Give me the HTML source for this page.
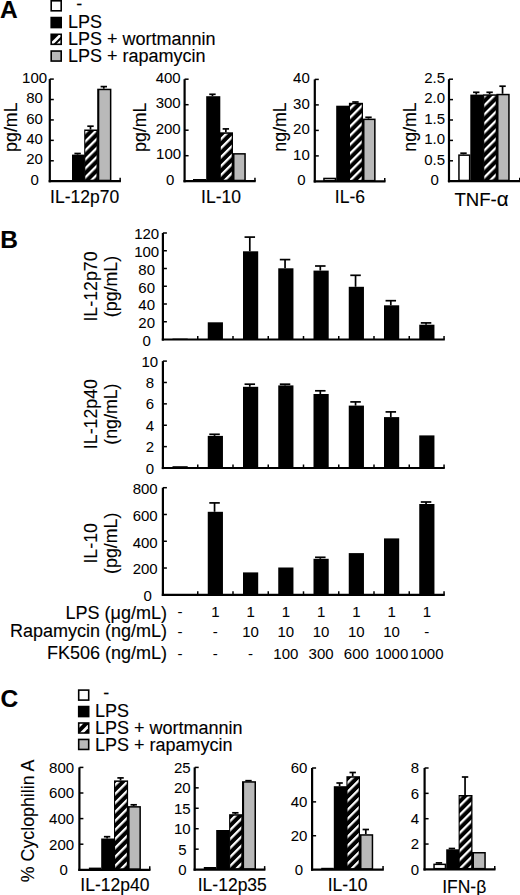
<!DOCTYPE html><html><head><meta charset="utf-8"><style>html,body{margin:0;padding:0;background:#fff;}svg{display:block;}text{font-family:"Liberation Sans",sans-serif;fill:#000;stroke:#000;stroke-width:0.12px;}text.t{stroke-width:0.05px;}</style></head><body>
<svg width="520" height="895" viewBox="0 0 520 895">
<rect width="520" height="895" fill="#fff"/>
<text x="0" y="18.2" font-size="24.5" text-anchor="start" font-weight="bold" >A</text>
<rect x="50.4" y="0.0" width="11.6" height="11.6" fill="#000"/>
<rect x="52.0" y="1.6" width="8.4" height="8.4" fill="#fff"/>
<text x="76.2" y="9.9" font-size="18.0" text-anchor="start" font-weight="normal" >-</text>
<rect x="50.4" y="16.75" width="11.6" height="11.6" fill="#000"/>
<text x="68.0" y="27.7" font-size="18.0" text-anchor="start" font-weight="normal" >LPS</text>
<rect x="50.4" y="33.5" width="11.6" height="11.6" fill="#000"/>
<clipPath id="lc0"><rect x="52.0" y="35.1" width="8.4" height="8.4"/></clipPath>
<g clip-path="url(#lc0)">
<line x1="65.5" y1="30.1" x2="47.0" y2="48.6" stroke="#fff" stroke-width="2.8"/>
<line x1="72.3" y1="30.1" x2="47.0" y2="55.4" stroke="#fff" stroke-width="2.8"/>
</g>
<text x="68.0" y="44.9" font-size="18.0" text-anchor="start" font-weight="normal" >LPS + wortmannin</text>
<rect x="50.4" y="50.25" width="11.6" height="11.6" fill="#000"/>
<rect x="52.0" y="51.85" width="8.4" height="8.4" fill="#b9b9b9"/>
<text x="68.0" y="61.9" font-size="18.0" text-anchor="start" font-weight="normal" >LPS + rapamycin</text>
<line x1="49.8" y1="79.1" x2="49.8" y2="182.3" stroke="#000" stroke-width="2.2"/>
<line x1="49.8" y1="79.1" x2="53.8" y2="79.1" stroke="#000" stroke-width="1.5"/>
<line x1="49.8" y1="99.52" x2="53.8" y2="99.52" stroke="#000" stroke-width="1.5"/>
<line x1="49.8" y1="119.94" x2="53.8" y2="119.94" stroke="#000" stroke-width="1.5"/>
<line x1="49.8" y1="140.36" x2="53.8" y2="140.36" stroke="#000" stroke-width="1.5"/>
<line x1="49.8" y1="160.78" x2="53.8" y2="160.78" stroke="#000" stroke-width="1.5"/>
<line x1="48.7" y1="181.2" x2="120.9" y2="181.2" stroke="#000" stroke-width="2.2"/>
<line x1="120.15" y1="181.2" x2="120.15" y2="177.7" stroke="#000" stroke-width="1.5"/>
<text x="34.6" y="82.8" font-size="15" text-anchor="middle" font-weight="normal" class="t">100</text>
<text x="34.6" y="103.22" font-size="15" text-anchor="middle" font-weight="normal" class="t">80</text>
<text x="34.6" y="123.64" font-size="15" text-anchor="middle" font-weight="normal" class="t">60</text>
<text x="34.6" y="144.06" font-size="15" text-anchor="middle" font-weight="normal" class="t">40</text>
<text x="34.6" y="164.48" font-size="15" text-anchor="middle" font-weight="normal" class="t">20</text>
<text x="34.6" y="184.9" font-size="15" text-anchor="middle" font-weight="normal" class="t">0</text>
<text transform="translate(16.8,127.2) rotate(-90)" font-size="17.8" text-anchor="middle">pg/mL</text>
<line x1="77.6" y1="154.6" x2="77.6" y2="153.5" stroke="#000" stroke-width="1.7"/>
<line x1="74.4" y1="153.5" x2="80.8" y2="153.5" stroke="#000" stroke-width="1.7"/>
<rect x="72.0" y="154.6" width="12.8" height="26.6" fill="#000"/>
<line x1="90.5" y1="129.5" x2="90.5" y2="126.2" stroke="#000" stroke-width="1.7"/>
<line x1="87.3" y1="126.2" x2="93.7" y2="126.2" stroke="#000" stroke-width="1.7"/>
<rect x="84.2" y="129.5" width="13.6" height="51.7" fill="#000"/>
<pattern id="h1" patternUnits="userSpaceOnUse" width="6.36" height="6.36" patternTransform="rotate(45) translate(0.16 0)"><rect x="0" y="0" width="2.3" height="6.36" fill="#fff"/></pattern>
<rect x="85.3" y="131.0" width="11.2" height="48.7" fill="url(#h1)"/>
<line x1="103.8" y1="88.7" x2="103.8" y2="86.6" stroke="#000" stroke-width="1.7"/>
<line x1="100.6" y1="86.6" x2="107.0" y2="86.6" stroke="#000" stroke-width="1.7"/>
<rect x="97.2" y="88.7" width="14.2" height="92.5" fill="#000"/>
<rect x="99.3" y="90.2" width="10.6" height="89.5" fill="#b9b9b9"/>
<text x="84.6" y="203.2" font-size="17.5" text-anchor="middle" font-weight="normal" >IL-12p70</text>
<line x1="184.6" y1="79.2" x2="184.6" y2="182.3" stroke="#000" stroke-width="2.2"/>
<line x1="184.6" y1="79.2" x2="188.6" y2="79.2" stroke="#000" stroke-width="1.5"/>
<line x1="184.6" y1="104.7" x2="188.6" y2="104.7" stroke="#000" stroke-width="1.5"/>
<line x1="184.6" y1="130.2" x2="188.6" y2="130.2" stroke="#000" stroke-width="1.5"/>
<line x1="184.6" y1="155.7" x2="188.6" y2="155.7" stroke="#000" stroke-width="1.5"/>
<line x1="183.5" y1="181.2" x2="255.7" y2="181.2" stroke="#000" stroke-width="2.2"/>
<line x1="254.95" y1="181.2" x2="254.95" y2="177.7" stroke="#000" stroke-width="1.5"/>
<text x="168.2" y="82.9" font-size="15" text-anchor="middle" font-weight="normal" class="t">400</text>
<text x="168.2" y="108.4" font-size="15" text-anchor="middle" font-weight="normal" class="t">300</text>
<text x="168.2" y="133.9" font-size="15" text-anchor="middle" font-weight="normal" class="t">200</text>
<text x="168.6" y="159.4" font-size="15" text-anchor="middle" font-weight="normal" class="t">100</text>
<text x="170.2" y="184.9" font-size="15" text-anchor="middle" font-weight="normal" class="t">0</text>
<text transform="translate(145.8,127.3) rotate(-90)" font-size="17.8" text-anchor="middle">pg/mL</text>
<rect x="193.0" y="179.0" width="13.2" height="2.2" fill="#000"/>
<line x1="212.45" y1="96.2" x2="212.45" y2="94.3" stroke="#000" stroke-width="1.7"/>
<line x1="209.25" y1="94.3" x2="215.65" y2="94.3" stroke="#000" stroke-width="1.7"/>
<rect x="206.2" y="96.2" width="14.1" height="85" fill="#000"/>
<line x1="225.85" y1="132.3" x2="225.85" y2="128.9" stroke="#000" stroke-width="1.7"/>
<line x1="222.65" y1="128.9" x2="229.05" y2="128.9" stroke="#000" stroke-width="1.7"/>
<rect x="219.7" y="132.3" width="13.3" height="48.9" fill="#000"/>
<pattern id="h2" patternUnits="userSpaceOnUse" width="6.36" height="6.36" patternTransform="rotate(45) translate(-0.94 0)"><rect x="0" y="0" width="2.3" height="6.36" fill="#fff"/></pattern>
<rect x="220.8" y="133.8" width="10.9" height="45.9" fill="url(#h2)"/>
<rect x="232.4" y="153.1" width="13.4" height="28.1" fill="#000"/>
<rect x="234.5" y="154.6" width="9.8" height="25.1" fill="#b9b9b9"/>
<text x="221.0" y="203.2" font-size="17.5" text-anchor="middle" font-weight="normal" >IL-10</text>
<line x1="314.8" y1="79.4" x2="314.8" y2="182.5" stroke="#000" stroke-width="2.2"/>
<line x1="314.8" y1="79.4" x2="318.8" y2="79.4" stroke="#000" stroke-width="1.5"/>
<line x1="314.8" y1="104.9" x2="318.8" y2="104.9" stroke="#000" stroke-width="1.5"/>
<line x1="314.8" y1="130.4" x2="318.8" y2="130.4" stroke="#000" stroke-width="1.5"/>
<line x1="314.8" y1="155.9" x2="318.8" y2="155.9" stroke="#000" stroke-width="1.5"/>
<line x1="313.7" y1="181.4" x2="385.5" y2="181.4" stroke="#000" stroke-width="2.2"/>
<line x1="384.75" y1="181.4" x2="384.75" y2="177.9" stroke="#000" stroke-width="1.5"/>
<text x="301.4" y="83.1" font-size="15" text-anchor="middle" font-weight="normal" class="t">40</text>
<text x="301.4" y="108.6" font-size="15" text-anchor="middle" font-weight="normal" class="t">30</text>
<text x="301.4" y="134.1" font-size="15" text-anchor="middle" font-weight="normal" class="t">20</text>
<text x="301.4" y="159.6" font-size="15" text-anchor="middle" font-weight="normal" class="t">10</text>
<text x="301.4" y="185.1" font-size="15" text-anchor="middle" font-weight="normal" class="t">0</text>
<text transform="translate(285.8,127.0) rotate(-90)" font-size="17.8" text-anchor="middle">ng/mL</text>
<rect x="323.2" y="177.7" width="13.0" height="3.7" fill="#000"/>
<rect x="324.7" y="179.2" width="10.0" height="0.7" fill="#fff"/>
<rect x="336.2" y="105.7" width="13.3" height="75.7" fill="#000"/>
<line x1="355.45" y1="102.8" x2="355.45" y2="102.0" stroke="#000" stroke-width="1.7"/>
<line x1="352.25" y1="102.0" x2="358.65" y2="102.0" stroke="#000" stroke-width="1.7"/>
<rect x="348.9" y="102.8" width="14.1" height="78.6" fill="#000"/>
<pattern id="h3" patternUnits="userSpaceOnUse" width="6.36" height="6.36" patternTransform="rotate(45) translate(5.16 0)"><rect x="0" y="0" width="2.3" height="6.36" fill="#fff"/></pattern>
<rect x="350.0" y="104.3" width="11.7" height="75.6" fill="url(#h3)"/>
<line x1="368.5" y1="118.6" x2="368.5" y2="117.3" stroke="#000" stroke-width="1.7"/>
<line x1="365.3" y1="117.3" x2="371.7" y2="117.3" stroke="#000" stroke-width="1.7"/>
<rect x="362.4" y="118.6" width="13.2" height="62.8" fill="#000"/>
<rect x="364.5" y="120.1" width="9.6" height="59.8" fill="#b9b9b9"/>
<text x="349.9" y="203.2" font-size="17.5" text-anchor="middle" font-weight="normal" >IL-6</text>
<line x1="449.0" y1="79.2" x2="449.0" y2="182.3" stroke="#000" stroke-width="2.2"/>
<line x1="449.0" y1="79.2" x2="453.0" y2="79.2" stroke="#000" stroke-width="1.5"/>
<line x1="449.0" y1="99.6" x2="453.0" y2="99.6" stroke="#000" stroke-width="1.5"/>
<line x1="449.0" y1="120.0" x2="453.0" y2="120.0" stroke="#000" stroke-width="1.5"/>
<line x1="449.0" y1="140.4" x2="453.0" y2="140.4" stroke="#000" stroke-width="1.5"/>
<line x1="449.0" y1="160.8" x2="453.0" y2="160.8" stroke="#000" stroke-width="1.5"/>
<line x1="447.9" y1="181.2" x2="520.5" y2="181.2" stroke="#000" stroke-width="2.2"/>
<line x1="519.75" y1="181.2" x2="519.75" y2="177.7" stroke="#000" stroke-width="1.5"/>
<text x="434.6" y="82.9" font-size="15" text-anchor="middle" font-weight="normal" class="t">2.5</text>
<text x="434.6" y="103.3" font-size="15" text-anchor="middle" font-weight="normal" class="t">2.0</text>
<text x="434.6" y="123.7" font-size="15" text-anchor="middle" font-weight="normal" class="t">1.5</text>
<text x="434.6" y="144.1" font-size="15" text-anchor="middle" font-weight="normal" class="t">1.0</text>
<text x="434.6" y="164.5" font-size="15" text-anchor="middle" font-weight="normal" class="t">0.5</text>
<text x="434.6" y="184.9" font-size="15" text-anchor="middle" font-weight="normal" class="t">0</text>
<text transform="translate(416.1,127.0) rotate(-90)" font-size="17.8" text-anchor="middle">ng/mL</text>
<line x1="463.5" y1="154.4" x2="463.5" y2="153.2" stroke="#000" stroke-width="1.7"/>
<line x1="460.3" y1="153.2" x2="466.7" y2="153.2" stroke="#000" stroke-width="1.7"/>
<rect x="458.2" y="154.4" width="12.2" height="26.8" fill="#000"/>
<rect x="459.7" y="155.9" width="9.2" height="23.8" fill="#fff"/>
<line x1="476.25" y1="94.6" x2="476.25" y2="92.3" stroke="#000" stroke-width="1.7"/>
<line x1="473.05" y1="92.3" x2="479.45" y2="92.3" stroke="#000" stroke-width="1.7"/>
<rect x="470.3" y="94.6" width="13.5" height="86.6" fill="#000"/>
<line x1="489.6" y1="94.3" x2="489.6" y2="92.3" stroke="#000" stroke-width="1.7"/>
<line x1="486.4" y1="92.3" x2="492.8" y2="92.3" stroke="#000" stroke-width="1.7"/>
<rect x="483.2" y="94.3" width="13.8" height="86.9" fill="#000"/>
<pattern id="h4" patternUnits="userSpaceOnUse" width="6.36" height="6.36" patternTransform="rotate(45) translate(2.46 0)"><rect x="0" y="0" width="2.3" height="6.36" fill="#fff"/></pattern>
<rect x="484.3" y="95.8" width="11.4" height="83.9" fill="url(#h4)"/>
<line x1="502.55" y1="93.8" x2="502.55" y2="86.2" stroke="#000" stroke-width="1.7"/>
<line x1="499.35" y1="86.2" x2="505.75" y2="86.2" stroke="#000" stroke-width="1.7"/>
<rect x="496.4" y="93.8" width="13.3" height="87.4" fill="#000"/>
<rect x="498.5" y="95.3" width="9.7" height="84.4" fill="#b9b9b9"/>
<text x="481.5" y="206.0" font-size="18.6" text-anchor="middle" font-weight="normal" >TNF-<tspan font-size="20.5">α</tspan></text>
<text x="0.3" y="248" font-size="24.5" text-anchor="start" font-weight="bold" >B</text>
<line x1="162.9" y1="233.0" x2="162.9" y2="340.6" stroke="#000" stroke-width="2.2"/>
<line x1="162.9" y1="233.0" x2="166.9" y2="233.0" stroke="#000" stroke-width="1.5"/>
<line x1="162.9" y1="250.75" x2="166.9" y2="250.75" stroke="#000" stroke-width="1.5"/>
<line x1="162.9" y1="268.5" x2="166.9" y2="268.5" stroke="#000" stroke-width="1.5"/>
<line x1="162.9" y1="286.25" x2="166.9" y2="286.25" stroke="#000" stroke-width="1.5"/>
<line x1="162.9" y1="304.0" x2="166.9" y2="304.0" stroke="#000" stroke-width="1.5"/>
<line x1="162.9" y1="321.75" x2="166.9" y2="321.75" stroke="#000" stroke-width="1.5"/>
<line x1="161.8" y1="339.5" x2="444.8" y2="339.5" stroke="#000" stroke-width="2.2"/>
<line x1="197.75" y1="339.5" x2="197.75" y2="336.0" stroke="#000" stroke-width="1.5"/>
<line x1="233.0" y1="339.5" x2="233.0" y2="336.0" stroke="#000" stroke-width="1.5"/>
<line x1="268.25" y1="339.5" x2="268.25" y2="336.0" stroke="#000" stroke-width="1.5"/>
<line x1="303.5" y1="339.5" x2="303.5" y2="336.0" stroke="#000" stroke-width="1.5"/>
<line x1="338.75" y1="339.5" x2="338.75" y2="336.0" stroke="#000" stroke-width="1.5"/>
<line x1="374.0" y1="339.5" x2="374.0" y2="336.0" stroke="#000" stroke-width="1.5"/>
<line x1="409.25" y1="339.5" x2="409.25" y2="336.0" stroke="#000" stroke-width="1.5"/>
<line x1="444.05" y1="339.5" x2="444.05" y2="336.0" stroke="#000" stroke-width="1.5"/>
<text x="146.7" y="239.3" font-size="15" text-anchor="middle" font-weight="normal" class="t">120</text>
<text x="146.7" y="257.05" font-size="15" text-anchor="middle" font-weight="normal" class="t">100</text>
<text x="146.7" y="274.8" font-size="15" text-anchor="middle" font-weight="normal" class="t">80</text>
<text x="146.7" y="292.55" font-size="15" text-anchor="middle" font-weight="normal" class="t">60</text>
<text x="146.7" y="310.3" font-size="15" text-anchor="middle" font-weight="normal" class="t">40</text>
<text x="146.7" y="328.05" font-size="15" text-anchor="middle" font-weight="normal" class="t">20</text>
<text x="146.7" y="345.8" font-size="15" text-anchor="middle" font-weight="normal" class="t">0</text>
<text transform="translate(96.5,286.5) rotate(-90)" font-size="17.8" text-anchor="middle">IL-12p70</text>
<text transform="translate(116.5,286.5) rotate(-90)" font-size="17.8" text-anchor="middle">(pg/mL)</text>
<rect x="172.5" y="338.6" width="15.2" height="0.9" fill="#000"/>
<rect x="207.75" y="322.3" width="15.2" height="17.2" fill="#000"/>
<line x1="249.8" y1="251.3" x2="249.8" y2="237.1" stroke="#000" stroke-width="1.7"/>
<line x1="244.55" y1="237.1" x2="255.05" y2="237.1" stroke="#000" stroke-width="1.7"/>
<rect x="243.0" y="251.3" width="15.2" height="88.2" fill="#000"/>
<line x1="285.05" y1="268.3" x2="285.05" y2="259.6" stroke="#000" stroke-width="1.7"/>
<line x1="279.8" y1="259.6" x2="290.3" y2="259.6" stroke="#000" stroke-width="1.7"/>
<rect x="278.25" y="268.3" width="15.2" height="71.2" fill="#000"/>
<line x1="320.3" y1="270.6" x2="320.3" y2="266.0" stroke="#000" stroke-width="1.7"/>
<line x1="315.05" y1="266.0" x2="325.55" y2="266.0" stroke="#000" stroke-width="1.7"/>
<rect x="313.5" y="270.6" width="15.2" height="68.9" fill="#000"/>
<line x1="355.55" y1="286.8" x2="355.55" y2="275.3" stroke="#000" stroke-width="1.7"/>
<line x1="350.3" y1="275.3" x2="360.8" y2="275.3" stroke="#000" stroke-width="1.7"/>
<rect x="348.75" y="286.8" width="15.2" height="52.7" fill="#000"/>
<line x1="390.8" y1="305.3" x2="390.8" y2="300.7" stroke="#000" stroke-width="1.7"/>
<line x1="385.55" y1="300.7" x2="396.05" y2="300.7" stroke="#000" stroke-width="1.7"/>
<rect x="384.0" y="305.3" width="15.2" height="34.2" fill="#000"/>
<line x1="426.05" y1="324.7" x2="426.05" y2="322.9" stroke="#000" stroke-width="1.7"/>
<line x1="420.8" y1="322.9" x2="431.3" y2="322.9" stroke="#000" stroke-width="1.7"/>
<rect x="419.25" y="324.7" width="15.2" height="14.8" fill="#000"/>
<line x1="162.9" y1="361.1" x2="162.9" y2="469.1" stroke="#000" stroke-width="2.2"/>
<line x1="162.9" y1="361.1" x2="166.9" y2="361.1" stroke="#000" stroke-width="1.5"/>
<line x1="162.9" y1="382.48" x2="166.9" y2="382.48" stroke="#000" stroke-width="1.5"/>
<line x1="162.9" y1="403.86" x2="166.9" y2="403.86" stroke="#000" stroke-width="1.5"/>
<line x1="162.9" y1="425.24" x2="166.9" y2="425.24" stroke="#000" stroke-width="1.5"/>
<line x1="162.9" y1="446.62" x2="166.9" y2="446.62" stroke="#000" stroke-width="1.5"/>
<line x1="161.8" y1="468.0" x2="444.8" y2="468.0" stroke="#000" stroke-width="2.2"/>
<line x1="197.75" y1="468.0" x2="197.75" y2="464.5" stroke="#000" stroke-width="1.5"/>
<line x1="233.0" y1="468.0" x2="233.0" y2="464.5" stroke="#000" stroke-width="1.5"/>
<line x1="268.25" y1="468.0" x2="268.25" y2="464.5" stroke="#000" stroke-width="1.5"/>
<line x1="303.5" y1="468.0" x2="303.5" y2="464.5" stroke="#000" stroke-width="1.5"/>
<line x1="338.75" y1="468.0" x2="338.75" y2="464.5" stroke="#000" stroke-width="1.5"/>
<line x1="374.0" y1="468.0" x2="374.0" y2="464.5" stroke="#000" stroke-width="1.5"/>
<line x1="409.25" y1="468.0" x2="409.25" y2="464.5" stroke="#000" stroke-width="1.5"/>
<line x1="444.05" y1="468.0" x2="444.05" y2="464.5" stroke="#000" stroke-width="1.5"/>
<text x="149.8" y="366.7" font-size="15" text-anchor="middle" font-weight="normal" class="t">10</text>
<text x="149.8" y="388.08" font-size="15" text-anchor="middle" font-weight="normal" class="t">8</text>
<text x="149.8" y="409.46" font-size="15" text-anchor="middle" font-weight="normal" class="t">6</text>
<text x="149.8" y="430.84" font-size="15" text-anchor="middle" font-weight="normal" class="t">4</text>
<text x="149.8" y="452.22" font-size="15" text-anchor="middle" font-weight="normal" class="t">2</text>
<text x="149.8" y="473.6" font-size="15" text-anchor="middle" font-weight="normal" class="t">0</text>
<text transform="translate(96.5,414.1) rotate(-90)" font-size="17.8" text-anchor="middle">IL-12p40</text>
<text transform="translate(116.5,414.1) rotate(-90)" font-size="17.8" text-anchor="middle">(ng/mL)</text>
<rect x="172.5" y="466.2" width="15.2" height="1.8" fill="#000"/>
<line x1="214.55" y1="435.9" x2="214.55" y2="434.3" stroke="#000" stroke-width="1.7"/>
<line x1="209.3" y1="434.3" x2="219.8" y2="434.3" stroke="#000" stroke-width="1.7"/>
<rect x="207.75" y="435.9" width="15.2" height="32.1" fill="#000"/>
<line x1="249.8" y1="386.8" x2="249.8" y2="384.2" stroke="#000" stroke-width="1.7"/>
<line x1="244.55" y1="384.2" x2="255.05" y2="384.2" stroke="#000" stroke-width="1.7"/>
<rect x="243.0" y="386.8" width="15.2" height="81.2" fill="#000"/>
<line x1="285.05" y1="385.4" x2="285.05" y2="384.2" stroke="#000" stroke-width="1.7"/>
<line x1="279.8" y1="384.2" x2="290.3" y2="384.2" stroke="#000" stroke-width="1.7"/>
<rect x="278.25" y="385.4" width="15.2" height="82.6" fill="#000"/>
<line x1="320.3" y1="394.0" x2="320.3" y2="390.8" stroke="#000" stroke-width="1.7"/>
<line x1="315.05" y1="390.8" x2="325.55" y2="390.8" stroke="#000" stroke-width="1.7"/>
<rect x="313.5" y="394.0" width="15.2" height="74.0" fill="#000"/>
<line x1="355.55" y1="405.6" x2="355.55" y2="401.9" stroke="#000" stroke-width="1.7"/>
<line x1="350.3" y1="401.9" x2="360.8" y2="401.9" stroke="#000" stroke-width="1.7"/>
<rect x="348.75" y="405.6" width="15.2" height="62.4" fill="#000"/>
<line x1="390.8" y1="417.1" x2="390.8" y2="411.9" stroke="#000" stroke-width="1.7"/>
<line x1="385.55" y1="411.9" x2="396.05" y2="411.9" stroke="#000" stroke-width="1.7"/>
<rect x="384.0" y="417.1" width="15.2" height="50.9" fill="#000"/>
<rect x="419.25" y="435.4" width="15.2" height="32.6" fill="#000"/>
<line x1="162.9" y1="487.7" x2="162.9" y2="595.9" stroke="#000" stroke-width="2.2"/>
<line x1="162.9" y1="487.7" x2="166.9" y2="487.7" stroke="#000" stroke-width="1.5"/>
<line x1="162.9" y1="514.48" x2="166.9" y2="514.48" stroke="#000" stroke-width="1.5"/>
<line x1="162.9" y1="541.25" x2="166.9" y2="541.25" stroke="#000" stroke-width="1.5"/>
<line x1="162.9" y1="568.02" x2="166.9" y2="568.02" stroke="#000" stroke-width="1.5"/>
<line x1="161.8" y1="594.8" x2="444.8" y2="594.8" stroke="#000" stroke-width="2.2"/>
<line x1="197.75" y1="594.8" x2="197.75" y2="591.3" stroke="#000" stroke-width="1.5"/>
<line x1="233.0" y1="594.8" x2="233.0" y2="591.3" stroke="#000" stroke-width="1.5"/>
<line x1="268.25" y1="594.8" x2="268.25" y2="591.3" stroke="#000" stroke-width="1.5"/>
<line x1="303.5" y1="594.8" x2="303.5" y2="591.3" stroke="#000" stroke-width="1.5"/>
<line x1="338.75" y1="594.8" x2="338.75" y2="591.3" stroke="#000" stroke-width="1.5"/>
<line x1="374.0" y1="594.8" x2="374.0" y2="591.3" stroke="#000" stroke-width="1.5"/>
<line x1="409.25" y1="594.8" x2="409.25" y2="591.3" stroke="#000" stroke-width="1.5"/>
<line x1="444.05" y1="594.8" x2="444.05" y2="591.3" stroke="#000" stroke-width="1.5"/>
<text x="145.2" y="494.0" font-size="15" text-anchor="middle" font-weight="normal" class="t">800</text>
<text x="145.2" y="520.77" font-size="15" text-anchor="middle" font-weight="normal" class="t">600</text>
<text x="145.2" y="547.55" font-size="15" text-anchor="middle" font-weight="normal" class="t">400</text>
<text x="145.2" y="574.32" font-size="15" text-anchor="middle" font-weight="normal" class="t">200</text>
<text x="147.7" y="601.1" font-size="15" text-anchor="middle" font-weight="normal" class="t">0</text>
<text transform="translate(96.5,543.3) rotate(-90)" font-size="17.8" text-anchor="middle">IL-10</text>
<text transform="translate(116.5,543.3) rotate(-90)" font-size="17.8" text-anchor="middle">(pg/mL)</text>
<line x1="214.55" y1="511.8" x2="214.55" y2="502.9" stroke="#000" stroke-width="1.7"/>
<line x1="209.3" y1="502.9" x2="219.8" y2="502.9" stroke="#000" stroke-width="1.7"/>
<rect x="207.75" y="511.8" width="15.2" height="83" fill="#000"/>
<rect x="243.0" y="572.4" width="15.2" height="22.4" fill="#000"/>
<rect x="278.25" y="567.5" width="15.2" height="27.3" fill="#000"/>
<line x1="320.3" y1="558.8" x2="320.3" y2="557.3" stroke="#000" stroke-width="1.7"/>
<line x1="315.05" y1="557.3" x2="325.55" y2="557.3" stroke="#000" stroke-width="1.7"/>
<rect x="313.5" y="558.8" width="15.2" height="36.0" fill="#000"/>
<rect x="348.75" y="553.1" width="15.2" height="41.7" fill="#000"/>
<rect x="384.0" y="538.4" width="15.2" height="56.4" fill="#000"/>
<line x1="426.05" y1="504.0" x2="426.05" y2="502.0" stroke="#000" stroke-width="1.7"/>
<line x1="420.8" y1="502.0" x2="431.3" y2="502.0" stroke="#000" stroke-width="1.7"/>
<rect x="419.25" y="504.0" width="15.2" height="90.8" fill="#000"/>
<text x="167.0" y="618.7" font-size="18.0" text-anchor="end" font-weight="normal" >LPS (μg/mL)</text>
<text x="167.0" y="636.7" font-size="18.0" text-anchor="end" font-weight="normal" >Rapamycin (ng/mL)</text>
<text x="167.0" y="659.0" font-size="18.0" text-anchor="end" font-weight="normal" >FK506 (ng/mL)</text>
<text x="180.1" y="616.6" font-size="15" text-anchor="middle" font-weight="normal" class="t">-</text>
<text x="215.35" y="616.6" font-size="15" text-anchor="middle" font-weight="normal" class="t">1</text>
<text x="250.6" y="616.6" font-size="15" text-anchor="middle" font-weight="normal" class="t">1</text>
<text x="285.85" y="616.6" font-size="15" text-anchor="middle" font-weight="normal" class="t">1</text>
<text x="321.1" y="616.6" font-size="15" text-anchor="middle" font-weight="normal" class="t">1</text>
<text x="356.35" y="616.6" font-size="15" text-anchor="middle" font-weight="normal" class="t">1</text>
<text x="391.6" y="616.6" font-size="15" text-anchor="middle" font-weight="normal" class="t">1</text>
<text x="426.85" y="616.6" font-size="15" text-anchor="middle" font-weight="normal" class="t">1</text>
<text x="180.1" y="636.7" font-size="15" text-anchor="middle" font-weight="normal" class="t">-</text>
<text x="215.35" y="636.7" font-size="15" text-anchor="middle" font-weight="normal" class="t">-</text>
<text x="250.6" y="636.7" font-size="15" text-anchor="middle" font-weight="normal" class="t">10</text>
<text x="285.85" y="636.7" font-size="15" text-anchor="middle" font-weight="normal" class="t">10</text>
<text x="321.1" y="636.7" font-size="15" text-anchor="middle" font-weight="normal" class="t">10</text>
<text x="356.35" y="636.7" font-size="15" text-anchor="middle" font-weight="normal" class="t">10</text>
<text x="391.6" y="636.7" font-size="15" text-anchor="middle" font-weight="normal" class="t">10</text>
<text x="426.85" y="636.7" font-size="15" text-anchor="middle" font-weight="normal" class="t">-</text>
<text x="180.1" y="659.0" font-size="15" text-anchor="middle" font-weight="normal" class="t">-</text>
<text x="215.35" y="659.0" font-size="15" text-anchor="middle" font-weight="normal" class="t">-</text>
<text x="250.6" y="659.0" font-size="15" text-anchor="middle" font-weight="normal" class="t">-</text>
<text x="285.85" y="659.0" font-size="15" text-anchor="middle" font-weight="normal" class="t">100</text>
<text x="321.1" y="659.0" font-size="15" text-anchor="middle" font-weight="normal" class="t">300</text>
<text x="356.35" y="659.0" font-size="15" text-anchor="middle" font-weight="normal" class="t">600</text>
<text x="391.6" y="659.0" font-size="15" text-anchor="middle" font-weight="normal" class="t">1000</text>
<text x="426.85" y="659.0" font-size="15" text-anchor="middle" font-weight="normal" class="t">1000</text>
<text x="0.5" y="706.6" font-size="24.5" text-anchor="start" font-weight="bold" >C</text>
<rect x="77.9" y="689.3" width="11.6" height="11.6" fill="#000"/>
<rect x="79.5" y="690.9" width="8.4" height="8.4" fill="#fff"/>
<text x="103.2" y="698.9" font-size="18.0" text-anchor="start" font-weight="normal" >-</text>
<rect x="77.9" y="705.75" width="11.6" height="11.6" fill="#000"/>
<text x="95.0" y="716.7" font-size="18.0" text-anchor="start" font-weight="normal" >LPS</text>
<rect x="77.9" y="722.2" width="11.6" height="11.6" fill="#000"/>
<clipPath id="lc689"><rect x="79.5" y="723.8" width="8.4" height="8.4"/></clipPath>
<g clip-path="url(#lc689)">
<line x1="86.1" y1="718.8" x2="74.5" y2="730.4" stroke="#fff" stroke-width="2.8"/>
<line x1="95.8" y1="718.8" x2="74.5" y2="740.1" stroke="#fff" stroke-width="2.8"/>
</g>
<text x="95.0" y="734.2" font-size="18.0" text-anchor="start" font-weight="normal" >LPS + wortmannin</text>
<rect x="77.9" y="738.65" width="11.6" height="11.6" fill="#000"/>
<rect x="79.5" y="740.25" width="8.4" height="8.4" fill="#b9b9b9"/>
<text x="95.0" y="750.7" font-size="18.0" text-anchor="start" font-weight="normal" >LPS + rapamycin</text>
<text transform="translate(34.0,820.9) rotate(-90)" font-size="17.8" text-anchor="middle">% Cyclophilin A</text>
<line x1="79.4" y1="767.4" x2="79.4" y2="870.9" stroke="#000" stroke-width="2.2"/>
<line x1="79.4" y1="767.4" x2="83.4" y2="767.4" stroke="#000" stroke-width="1.5"/>
<line x1="79.4" y1="793.0" x2="83.4" y2="793.0" stroke="#000" stroke-width="1.5"/>
<line x1="79.4" y1="818.6" x2="83.4" y2="818.6" stroke="#000" stroke-width="1.5"/>
<line x1="79.4" y1="844.2" x2="83.4" y2="844.2" stroke="#000" stroke-width="1.5"/>
<line x1="78.3" y1="869.8" x2="150.5" y2="869.8" stroke="#000" stroke-width="2.2"/>
<line x1="149.75" y1="869.8" x2="149.75" y2="866.3" stroke="#000" stroke-width="1.5"/>
<text x="61.6" y="772.8" font-size="15" text-anchor="middle" font-weight="normal" class="t">800</text>
<text x="61.6" y="798.4" font-size="15" text-anchor="middle" font-weight="normal" class="t">600</text>
<text x="61.6" y="824" font-size="15" text-anchor="middle" font-weight="normal" class="t">400</text>
<text x="61.6" y="849.6" font-size="15" text-anchor="middle" font-weight="normal" class="t">200</text>
<text x="63.7" y="875.2" font-size="15" text-anchor="middle" font-weight="normal" class="t">0</text>
<rect x="88.9" y="867.6" width="12.3" height="2.2" fill="#000"/>
<line x1="107.1" y1="838.5" x2="107.1" y2="836.7" stroke="#000" stroke-width="1.7"/>
<line x1="103.9" y1="836.7" x2="110.3" y2="836.7" stroke="#000" stroke-width="1.7"/>
<rect x="101.2" y="838.5" width="13.4" height="31.3" fill="#000"/>
<line x1="120.55" y1="780.4" x2="120.55" y2="777.9" stroke="#000" stroke-width="1.7"/>
<line x1="117.35" y1="777.9" x2="123.75" y2="777.9" stroke="#000" stroke-width="1.7"/>
<rect x="114.0" y="780.4" width="14.1" height="89.4" fill="#000"/>
<pattern id="h5" patternUnits="userSpaceOnUse" width="6.36" height="6.36" patternTransform="rotate(45) translate(-0.69 0)"><rect x="0" y="0" width="2.3" height="6.36" fill="#fff"/></pattern>
<rect x="115.1" y="781.9" width="11.7" height="86.4" fill="url(#h5)"/>
<line x1="133.7" y1="806.1" x2="133.7" y2="804.8" stroke="#000" stroke-width="1.7"/>
<line x1="130.5" y1="804.8" x2="136.9" y2="804.8" stroke="#000" stroke-width="1.7"/>
<rect x="127.5" y="806.1" width="13.4" height="63.7" fill="#000"/>
<rect x="129.6" y="807.6" width="9.8" height="60.7" fill="#b9b9b9"/>
<text x="114.9" y="890.6" font-size="17.5" text-anchor="middle" font-weight="normal" >IL-12p40</text>
<line x1="194.7" y1="767.4" x2="194.7" y2="870.7" stroke="#000" stroke-width="2.2"/>
<line x1="194.7" y1="767.4" x2="198.7" y2="767.4" stroke="#000" stroke-width="1.5"/>
<line x1="194.7" y1="787.84" x2="198.7" y2="787.84" stroke="#000" stroke-width="1.5"/>
<line x1="194.7" y1="808.28" x2="198.7" y2="808.28" stroke="#000" stroke-width="1.5"/>
<line x1="194.7" y1="828.72" x2="198.7" y2="828.72" stroke="#000" stroke-width="1.5"/>
<line x1="194.7" y1="849.16" x2="198.7" y2="849.16" stroke="#000" stroke-width="1.5"/>
<line x1="193.6" y1="869.6" x2="265.4" y2="869.6" stroke="#000" stroke-width="2.2"/>
<line x1="264.65" y1="869.6" x2="264.65" y2="866.1" stroke="#000" stroke-width="1.5"/>
<text x="182.3" y="772.8" font-size="15" text-anchor="middle" font-weight="normal" class="t">25</text>
<text x="182.3" y="793.24" font-size="15" text-anchor="middle" font-weight="normal" class="t">20</text>
<text x="182.3" y="813.68" font-size="15" text-anchor="middle" font-weight="normal" class="t">15</text>
<text x="182.3" y="834.12" font-size="15" text-anchor="middle" font-weight="normal" class="t">10</text>
<text x="182.3" y="854.56" font-size="15" text-anchor="middle" font-weight="normal" class="t">5</text>
<text x="182.3" y="875.0" font-size="15" text-anchor="middle" font-weight="normal" class="t">0</text>
<rect x="203.8" y="867.0" width="12.4" height="2.6" fill="#000"/>
<rect x="216.2" y="830.0" width="13.5" height="39.6" fill="#000"/>
<line x1="235.35" y1="814.2" x2="235.35" y2="812.8" stroke="#000" stroke-width="1.7"/>
<line x1="232.15" y1="812.8" x2="238.55" y2="812.8" stroke="#000" stroke-width="1.7"/>
<rect x="229.1" y="814.2" width="13.5" height="55.4" fill="#000"/>
<pattern id="h6" patternUnits="userSpaceOnUse" width="6.36" height="6.36" patternTransform="rotate(45) translate(4.37 0)"><rect x="0" y="0" width="2.3" height="6.36" fill="#fff"/></pattern>
<rect x="230.2" y="815.7" width="11.1" height="52.4" fill="url(#h6)"/>
<line x1="248.5" y1="781.2" x2="248.5" y2="780.7" stroke="#000" stroke-width="1.7"/>
<line x1="245.3" y1="780.7" x2="251.7" y2="780.7" stroke="#000" stroke-width="1.7"/>
<rect x="242.0" y="781.2" width="14" height="88.4" fill="#000"/>
<rect x="244.1" y="782.7" width="10.4" height="85.4" fill="#b9b9b9"/>
<text x="232.3" y="890.6" font-size="17.5" text-anchor="middle" font-weight="normal" >IL-12p35</text>
<line x1="312.1" y1="768.0" x2="312.1" y2="870.7" stroke="#000" stroke-width="2.2"/>
<line x1="312.1" y1="768.0" x2="316.1" y2="768.0" stroke="#000" stroke-width="1.5"/>
<line x1="312.1" y1="801.87" x2="316.1" y2="801.87" stroke="#000" stroke-width="1.5"/>
<line x1="312.1" y1="835.73" x2="316.1" y2="835.73" stroke="#000" stroke-width="1.5"/>
<line x1="311.0" y1="869.6" x2="383.8" y2="869.6" stroke="#000" stroke-width="2.2"/>
<line x1="383.05" y1="869.6" x2="383.05" y2="866.1" stroke="#000" stroke-width="1.5"/>
<text x="299.0" y="773.4" font-size="15" text-anchor="middle" font-weight="normal" class="t">60</text>
<text x="299.0" y="807.27" font-size="15" text-anchor="middle" font-weight="normal" class="t">40</text>
<text x="299.0" y="841.13" font-size="15" text-anchor="middle" font-weight="normal" class="t">20</text>
<text x="299.0" y="875.0" font-size="15" text-anchor="middle" font-weight="normal" class="t">0</text>
<rect x="321.2" y="867.8" width="12.6" height="1.8" fill="#000"/>
<line x1="339.6" y1="786.2" x2="339.6" y2="783.0" stroke="#000" stroke-width="1.7"/>
<line x1="336.4" y1="783.0" x2="342.8" y2="783.0" stroke="#000" stroke-width="1.7"/>
<rect x="333.8" y="786.2" width="13.2" height="83.4" fill="#000"/>
<line x1="352.7" y1="776.2" x2="352.7" y2="772.5" stroke="#000" stroke-width="1.7"/>
<line x1="349.5" y1="772.5" x2="355.9" y2="772.5" stroke="#000" stroke-width="1.7"/>
<rect x="346.4" y="776.2" width="13.6" height="93.4" fill="#000"/>
<pattern id="h7" patternUnits="userSpaceOnUse" width="6.36" height="6.36" patternTransform="rotate(45) translate(3.09 0)"><rect x="0" y="0" width="2.3" height="6.36" fill="#fff"/></pattern>
<rect x="347.5" y="777.7" width="11.2" height="90.4" fill="url(#h7)"/>
<line x1="365.8" y1="834.2" x2="365.8" y2="829.5" stroke="#000" stroke-width="1.7"/>
<line x1="362.6" y1="829.5" x2="369.0" y2="829.5" stroke="#000" stroke-width="1.7"/>
<rect x="359.4" y="834.2" width="13.8" height="35.4" fill="#000"/>
<rect x="361.5" y="835.7" width="10.2" height="32.4" fill="#b9b9b9"/>
<text x="347.6" y="890.6" font-size="17.5" text-anchor="middle" font-weight="normal" >IL-10</text>
<line x1="424.6" y1="768.0" x2="424.6" y2="870.5" stroke="#000" stroke-width="2.2"/>
<line x1="424.6" y1="768.0" x2="428.6" y2="768.0" stroke="#000" stroke-width="1.5"/>
<line x1="424.6" y1="793.35" x2="428.6" y2="793.35" stroke="#000" stroke-width="1.5"/>
<line x1="424.6" y1="818.7" x2="428.6" y2="818.7" stroke="#000" stroke-width="1.5"/>
<line x1="424.6" y1="844.05" x2="428.6" y2="844.05" stroke="#000" stroke-width="1.5"/>
<line x1="423.5" y1="869.4" x2="495.5" y2="869.4" stroke="#000" stroke-width="2.2"/>
<line x1="494.75" y1="869.4" x2="494.75" y2="865.9" stroke="#000" stroke-width="1.5"/>
<text x="415.0" y="773.4" font-size="15" text-anchor="middle" font-weight="normal" class="t">8</text>
<text x="415.0" y="798.75" font-size="15" text-anchor="middle" font-weight="normal" class="t">6</text>
<text x="415.0" y="824.1" font-size="15" text-anchor="middle" font-weight="normal" class="t">4</text>
<text x="415.0" y="849.45" font-size="15" text-anchor="middle" font-weight="normal" class="t">2</text>
<text x="415.0" y="874.8" font-size="15" text-anchor="middle" font-weight="normal" class="t">0</text>
<line x1="438.95" y1="863.6" x2="438.95" y2="862.9" stroke="#000" stroke-width="1.7"/>
<line x1="435.75" y1="862.9" x2="442.15" y2="862.9" stroke="#000" stroke-width="1.7"/>
<rect x="433.3" y="863.6" width="12.9" height="5.8" fill="#000"/>
<rect x="434.8" y="865.1" width="9.9" height="2.8" fill="#fff"/>
<line x1="451.9" y1="849.3" x2="451.9" y2="848.5" stroke="#000" stroke-width="1.7"/>
<line x1="448.7" y1="848.5" x2="455.1" y2="848.5" stroke="#000" stroke-width="1.7"/>
<rect x="446.2" y="849.3" width="13.0" height="20.1" fill="#000"/>
<line x1="465.05" y1="795.0" x2="465.05" y2="777.0" stroke="#000" stroke-width="1.7"/>
<line x1="461.85" y1="777.0" x2="468.25" y2="777.0" stroke="#000" stroke-width="1.7"/>
<rect x="458.6" y="795.0" width="13.9" height="74.4" fill="#000"/>
<pattern id="h8" patternUnits="userSpaceOnUse" width="6.36" height="6.36" patternTransform="rotate(45) translate(3.34 0)"><rect x="0" y="0" width="2.3" height="6.36" fill="#fff"/></pattern>
<rect x="459.7" y="796.5" width="11.5" height="71.4" fill="url(#h8)"/>
<rect x="471.9" y="852.0" width="13.9" height="17.4" fill="#000"/>
<rect x="474.0" y="853.5" width="10.3" height="14.4" fill="#b9b9b9"/>
<text x="464.2" y="892.6" font-size="17.5" text-anchor="middle" font-weight="normal" >IFN-β</text>
</svg></body></html>
